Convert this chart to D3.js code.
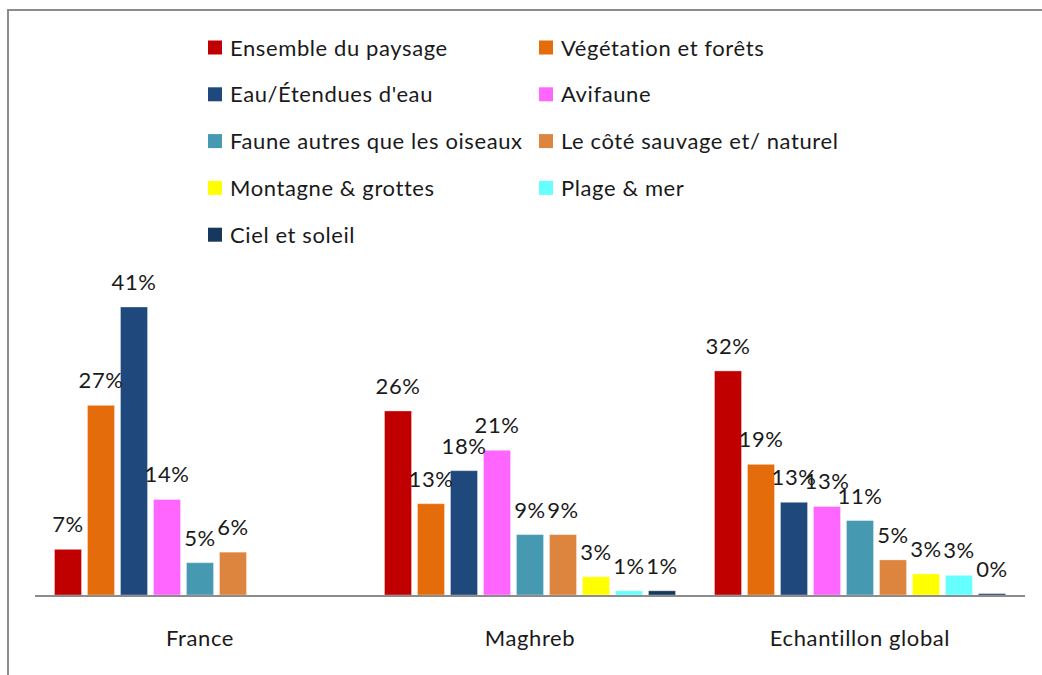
<!DOCTYPE html>
<html>
<head>
<meta charset="utf-8">
<script src="https://cdn.jsdelivr.net/npm/d3@7"></script>
<style>
    body { margin: 0; background: #fff; }
    svg { display: block; font-family: Lato, "Open Sans", sans-serif; letter-spacing: 0.6px; }
</style>
</head>
<body>
<svg id="chart" width="1042" height="675"></svg>
<script>
// Categories (groups on the x axis)
const categories = ["France", "Maghreb", "Echantillon global"];

// Series names (legend order)
const seriesNames = [
    "Ensemble du paysage",
    "Végétation et forêts",
    "Eau/Étendues d'eau",
    "Avifaune",
    "Faune autres que les oiseaux",
    "Le côté sauvage et/ naturel",
    "Montagne & grottes",
    "Plage & mer",
    "Ciel et soleil"
];

const seriesColors = ["#c00000", "#e46c0a", "#1f497d", "#ff66ff", "#4599b1", "#dd843f", "#ffff00", "#66ffff", "#17375e"];

// Values in %, one array per category (null = no bar)
const franceValues = [6.5, 27.0, 41.0, 13.6, 4.6, 6.1, null, null, null];
const maghrebValues = [26.2, 13.0, 17.7, 20.6, 8.6, 8.6, 2.6, 0.6, 0.6];
const globalValues = [31.9, 18.6, 13.2, 12.6, 10.6, 5.0, 3.0, 2.8, 0.2];

const allValues = [franceValues, maghrebValues, globalValues];

const svg = d3.select("#chart");

// chart area border
svg.append("rect")
    .attr("x", 8).attr("y", 10)
    .attr("width", 1060).attr("height", 700)
    .attr("fill", "none")
    .attr("stroke", "#8c8c8c")
    .attr("stroke-width", 2);

// Scales
const x0 = d3.scaleBand()
    .domain(categories)
    .range([35, 1025])
    .paddingInner(0.1)
    .paddingOuter(0.05);

const x1 = d3.scaleBand()
    .domain(seriesNames)
    .range([0, x0.bandwidth()])
    .paddingInner(0.18)
    .paddingOuter(0.09);

const y = d3.scaleLinear()
    .domain([0, 41])
    .range([595, 307]);

const color = d3.scaleOrdinal().domain(seriesNames).range(seriesColors);

// Bars
const groups = svg.selectAll(".group")
    .data(categories)
    .enter().append("g")
    .attr("class", "group")
    .attr("transform", d => `translate(${x0(d)},0)`);

const bars = groups.selectAll(".bar")
    .data((d, i) => seriesNames.map((s, j) => ({ series: s, value: allValues[i][j] }))
        .filter(b => b.value !== null))
    .enter();

bars.append("rect")
    .attr("class", "bar")
    .attr("x", d => x1(d.series))
    .attr("y", d => y(d.value))
    .attr("width", x1.bandwidth())
    .attr("height", d => y(0) - y(d.value))
    .attr("fill", d => color(d.series))
    .attr("stroke", "#ffffff")
    .attr("stroke-opacity", 0.35)
    .attr("stroke-width", 1);

bars.append("text")
    .attr("x", d => x1(d.series) + x1.bandwidth() / 2)
    .attr("y", d => y(d.value) - 17)
    .attr("text-anchor", "middle")
    .attr("font-size", 22)
    .attr("fill", "#1a1a1a")
    .text(d => Math.round(d.value) + "%");

// X axis line
svg.append("line")
    .attr("x1", 35).attr("x2", 1025)
    .attr("y1", y(0) + 1).attr("y2", y(0) + 1)
    .attr("stroke", "#8c8c8c")
    .attr("stroke-width", 2);

// Category labels
svg.selectAll(".cat-label")
    .data(categories)
    .enter().append("text")
    .attr("class", "cat-label")
    .attr("x", d => x0(d) + x0.bandwidth() / 2)
    .attr("y", 646)
    .attr("text-anchor", "middle")
    .attr("font-size", 22)
    .attr("fill", "#1a1a1a")
    .text(d => d);

// Legend (two columns)
const legend = svg.selectAll(".legend")
    .data(seriesNames)
    .enter().append("g")
    .attr("class", "legend")
    .attr("transform", (d, i) => `translate(${i % 2 === 0 ? 208 : 539},${47.5 + Math.floor(i / 2) * 46.8})`);

legend.append("rect")
    .attr("x", 0).attr("y", -7)
    .attr("width", 14).attr("height", 14)
    .attr("fill", d => color(d));

legend.append("text")
    .attr("x", 22)
    .attr("y", 8)
    .attr("font-size", 22)
    .attr("fill", "#1a1a1a")
    .text(d => d);
</script>
</body>
</html>
